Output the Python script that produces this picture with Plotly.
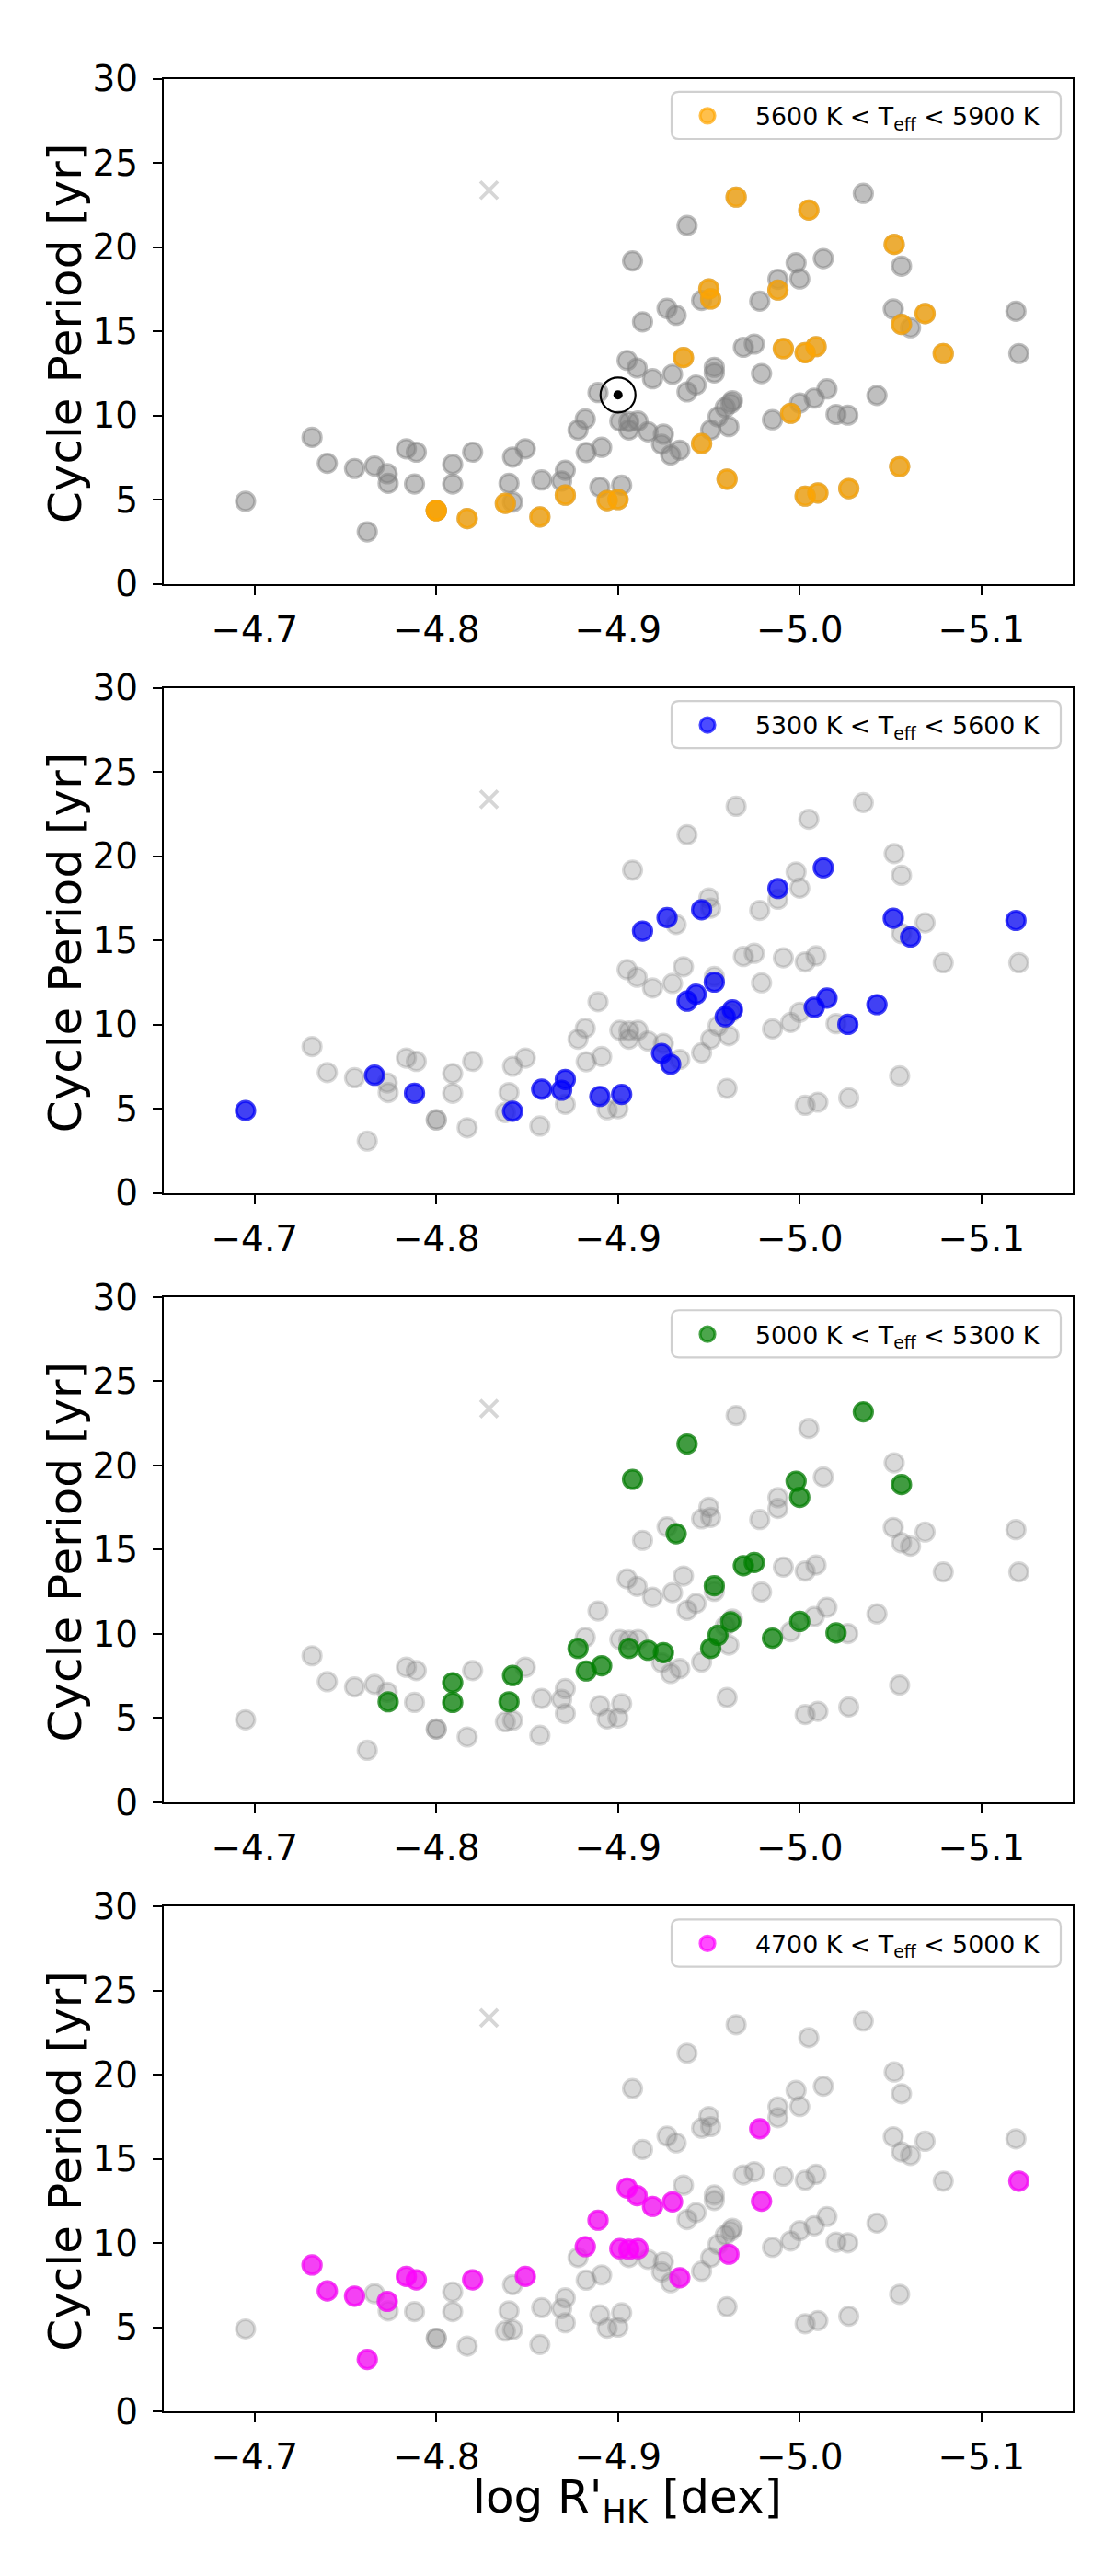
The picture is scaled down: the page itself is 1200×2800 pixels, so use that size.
"""
Cycle period vs. activity, split into four Teff bins (stacked panels).
"""
import plotly.graph_objects as go
from plotly.subplots import make_subplots

# log R'HK and cycle period [yr], one pair of lists per Teff bin
x_5600_5900 = [-4.800, -4.800, -4.817, -4.838, -4.857, -4.871, -4.894, -4.900, -4.936, -4.946,
               -4.950, -4.951, -4.960, -4.965, -4.988, -4.991, -4.995, -5.003, -5.005, -5.003,
               -5.009, -5.010, -5.027, -5.052, -5.055, -5.056, -5.069, -5.079]
y_5600_5900 = [4.35, 4.35, 3.88, 4.78, 3.98, 5.27, 4.95, 5.01, 13.44, 8.33,
               17.52, 16.92, 6.22, 22.97, 17.45, 13.97, 10.13, 13.73, 22.20, 5.21,
               14.09, 5.40, 5.66, 20.16, 6.96, 15.41, 16.05, 13.68]

x_5300_5600 = [-4.695, -4.766, -4.788, -4.842, -4.858, -4.869, -4.871, -4.890, -4.902, -4.9135,
               -4.927, -4.946, -4.924, -4.929, -4.938, -4.943, -4.953, -4.959, -4.963, -4.988,
               -5.013, -5.008, -5.015, -5.0265, -5.0425, -5.0515, -5.061, -5.119]
y_5300_5600 = [4.90, 7.00, 5.93, 4.86, 6.17, 6.11, 6.75, 5.74, 5.86, 15.56,
               16.36, 16.83, 8.29, 7.65, 11.40, 11.81, 12.53, 10.47, 10.88, 18.09,
               19.32, 11.03, 11.58, 10.02, 11.19, 16.32, 15.21, 16.19]

x_5000_5300 = [-4.7735, -4.809, -4.809, -4.842, -4.840, -4.878, -4.8825, -4.891, -4.908, -4.906,
               -4.9165, -4.925, -4.938, -4.932, -4.953, -4.951, -4.955, -4.962, -4.969, -4.975,
               -4.985, -4.998, -5.000, -5.000, -5.020, -5.035, -5.056]
y_5000_5300 = [5.97, 7.10, 5.93, 7.53, 5.97, 9.14, 7.80, 8.11, 19.18, 9.14,
               9.03, 8.89, 21.28, 15.95, 12.86, 9.14, 9.92, 10.72, 14.05, 14.24,
               9.75, 19.07, 18.11, 10.74, 10.06, 23.19, 18.87]

x_4700_5000 = [-4.7316, -4.740, -4.755, -4.773, -4.762, -4.7835, -4.789, -4.820, -4.849, -4.882,
               -4.889, -4.901, -4.906, -4.911, -4.905, -4.9105, -4.919, -4.930, -4.934, -4.961,
               -4.978, -4.979, -5.1206]
y_4700_5000 = [8.70, 7.16, 6.85, 6.54, 3.09, 8.02, 7.82, 7.82, 8.02, 9.79,
               11.36, 9.67, 9.63, 9.67, 13.27, 12.82, 12.18, 12.45, 7.94, 9.34,
               16.79, 12.49, 13.68]

# the Sun and the one excluded star (grey cross)
sun_x, sun_y = [-4.900], [11.22]
excluded_x, excluded_y = [-4.829], [23.38]

bin_labels = ["5600 K &lt; T<sub>eff</sub> &lt; 5900 K",
              "5300 K &lt; T<sub>eff</sub> &lt; 5600 K",
              "5000 K &lt; T<sub>eff</sub> &lt; 5300 K",
              "4700 K &lt; T<sub>eff</sub> &lt; 5000 K"]
x_ticks = [-4.7, -4.8, -4.9, -5.0, -5.1]
x_ticktext = ["\u22124.7", "\u22124.8", "\u22124.9", "\u22125.0", "\u22125.1"]
y_ticks = [0, 5, 10, 15, 20, 25, 30]

bins_x = [x_5600_5900, x_5300_5600, x_5000_5300, x_4700_5000]
bins_y = [y_5600_5900, y_5300_5600, y_5000_5300, y_4700_5000]
bin_colors = ["255,165,0", "0,0,255", "0,128,0", "255,0,255"]

all_x = [v for b in bins_x for v in b]
all_y = [v for b in bins_y for v in b]

W, H = 1200, 2800
FONT = "DejaVu Sans"
panel_top = [56.5 + 673 * i for i in range(4)]   # px from top
panel_h = 558
x_dom = [170 / W, 1157.5 / W]
MS, MLW = 20, 3.2

fig = make_subplots(rows=4, cols=1)

for i in range(4):
    r = i + 1
    grey_a = 0.5 if i == 0 else 0.3
    fig.add_trace(go.Scatter(
        x=all_x, y=all_y, mode="markers", showlegend=False, hoverinfo="skip",
        marker=dict(size=MS, color=f"rgba(128,128,128,{grey_a})",
                    line=dict(width=MLW, color=f"rgba(128,128,128,{grey_a})")),
    ), row=r, col=1)
    fig.add_trace(go.Scatter(
        x=excluded_x, y=excluded_y, mode="markers", showlegend=False, hoverinfo="skip",
        marker=dict(symbol="x-thin", size=19, color="#d6d6d6", line=dict(width=3.8, color="#d6d6d6")),
    ), row=r, col=1)
    c = bin_colors[i]
    fig.add_trace(go.Scatter(
        x=bins_x[i], y=bins_y[i], mode="markers", name=bin_labels[i],
        legend="legend" if i == 0 else f"legend{r}",
        marker=dict(size=MS, color=f"rgba({c},0.7)", line=dict(width=MLW, color=f"rgba({c},0.7)")),
    ), row=r, col=1)
    if i == 0:
        fig.add_trace(go.Scatter(
            x=sun_x, y=sun_y, mode="markers", showlegend=False, hoverinfo="skip",
            marker=dict(symbol="circle-open", size=38, color="black",
                        line=dict(width=2.2, color="black")),
        ), row=r, col=1)
        fig.add_trace(go.Scatter(
            x=sun_x, y=sun_y, mode="markers", showlegend=False, hoverinfo="skip",
            marker=dict(size=10, color="black"),
        ), row=r, col=1)

axis_common = dict(showline=True, mirror=True, linecolor="black", linewidth=2.2,
                   ticks="outside", ticklen=10, tickwidth=2.2, tickcolor="black",
                   showgrid=False, zeroline=False,
                   tickfont=dict(family=FONT, size=39, color="black"))

layout = dict(width=W, height=H, paper_bgcolor="white", plot_bgcolor="white",
              margin=dict(l=0, r=0, t=0, b=0), font=dict(family=FONT, color="black"))
shapes, annotations = [], []


def px(x):
    return x / W


def py(y):
    return 1 - y / H


for i in range(4):
    top = panel_top[i]
    sfx = "" if i == 0 else str(i + 1)
    y_dom = [py(top + panel_h), py(top)]
    layout[f"xaxis{sfx}"] = dict(axis_common, domain=x_dom, range=[-4.65, -5.15],
                                 tickvals=x_ticks, ticktext=x_ticktext, ticklabelstandoff=4)
    layout[f"yaxis{sfx}"] = dict(axis_common, domain=y_dom, range=[0, 30],
                                 tickvals=y_ticks, ticklabelstandoff=8)

    # legend: plotly entry + a rounded matplotlib-like frame
    bx0, bx1, by0, by1, rr = 722, 1145, top + 14.5, top + 66.5, 8
    path = (f"M {px(bx0 + rr)},{py(by0)} L {px(bx1 - rr)},{py(by0)} "
            f"Q {px(bx1)},{py(by0)} {px(bx1)},{py(by0 + rr)} L {px(bx1)},{py(by1 - rr)} "
            f"Q {px(bx1)},{py(by1)} {px(bx1 - rr)},{py(by1)} L {px(bx0 + rr)},{py(by1)} "
            f"Q {px(bx0)},{py(by1)} {px(bx0)},{py(by1 - rr)} L {px(bx0)},{py(by0 + rr)} "
            f"Q {px(bx0)},{py(by0)} {px(bx0 + rr)},{py(by0)} Z")
    shapes.append(dict(type="path", path=path, xref="paper", yref="paper", layer="above",
                       line=dict(color="#d0d0d0", width=2.2), fillcolor="rgba(255,255,255,0.8)"))
    layout["legend" if i == 0 else f"legend{i + 1}"] = dict(
        x=px(709), y=py(top + 41), xanchor="left", yanchor="middle",
        bgcolor="rgba(0,0,0,0)", borderwidth=0, itemwidth=94,
        font=dict(family=FONT, size=26.8, color="black"))

    annotations.append(dict(text="Cycle Period [yr]", textangle=-90, showarrow=False,
                            xref="paper", yref="paper", x=px(63), y=py(top + panel_h / 2 + 2),
                            xanchor="center", yanchor="middle",
                            font=dict(family=FONT, size=50, color="black")))

annotations.append(dict(text="log R'<sub>HK</sub> [dex]", showarrow=False,
                        xref="paper", yref="paper", x=(x_dom[0] + x_dom[1]) / 2 + 10 / W,
                        y=py(2731), xanchor="center", yanchor="middle",
                        font=dict(family=FONT, size=50, color="black")))

layout["shapes"] = shapes
layout["annotations"] = annotations
fig.update_layout(**layout)

fig.write_html("out.html")
